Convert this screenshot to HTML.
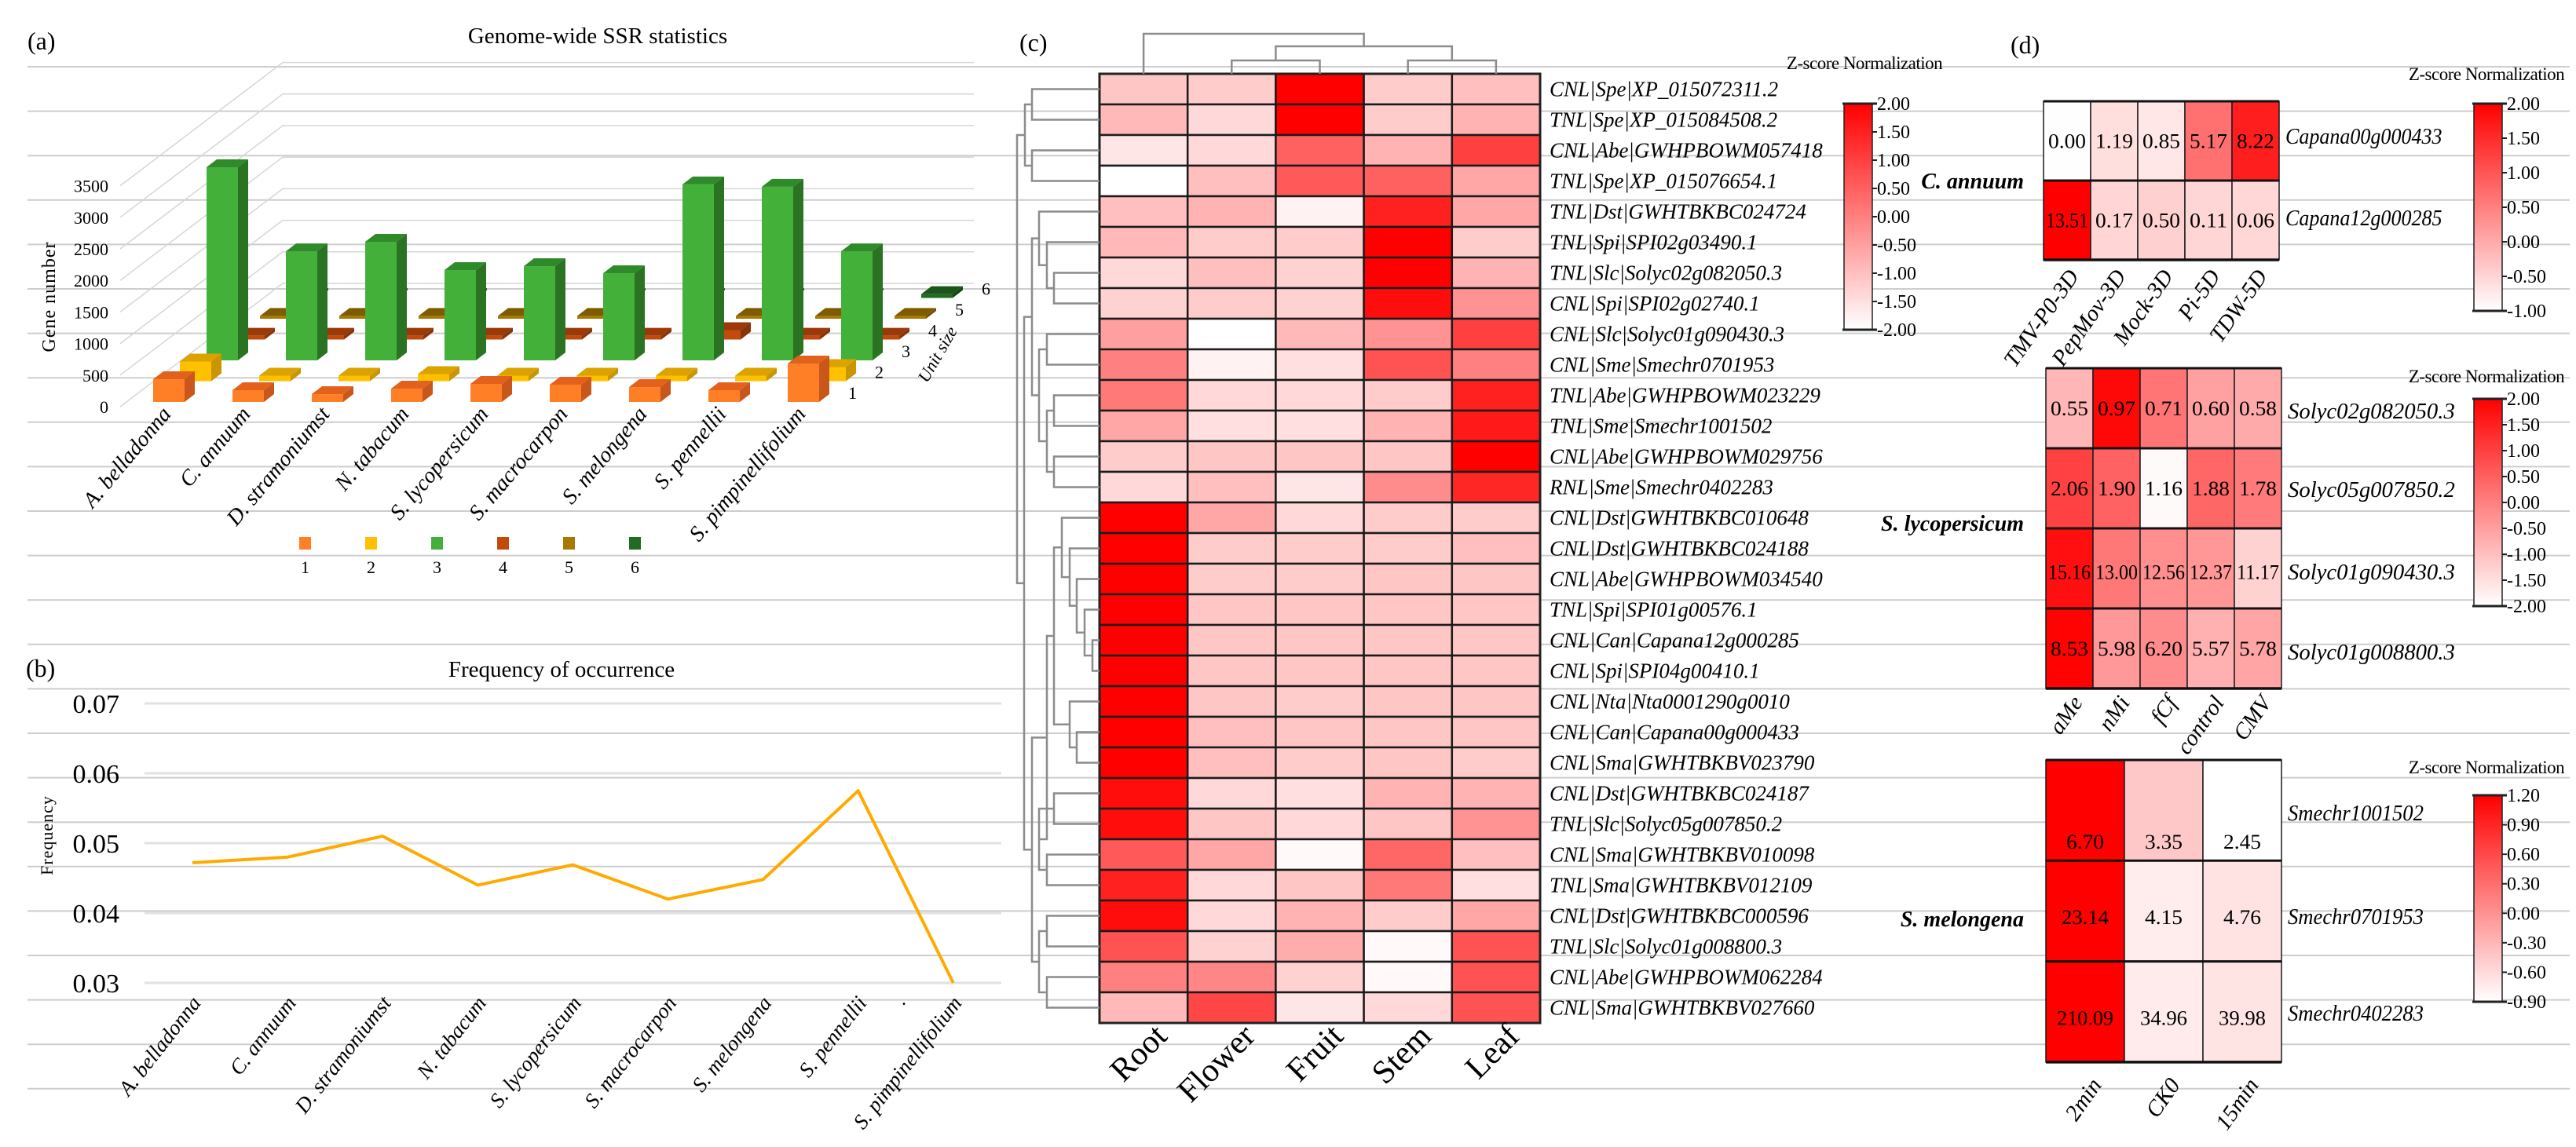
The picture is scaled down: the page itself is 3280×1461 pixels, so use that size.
<!DOCTYPE html>
<html><head><meta charset="utf-8"><title>NLR figure</title>
<style>
html,body{margin:0;padding:0;background:#fff;}
svg{display:block;font-family:"Liberation Serif","DejaVu Serif",serif;}
svg text{font-family:"Liberation Serif","DejaVu Serif",serif;}
</style></head>
<body>
<svg id="fig" xmlns="http://www.w3.org/2000/svg" width="3280" height="1461" viewBox="0 0 3280 1461">
<defs>
<linearGradient id="gradRed" x1="0" y1="1" x2="0" y2="0"><stop offset="0" stop-color="#ffffff"/><stop offset="1" stop-color="#ff0000"/></linearGradient>
</defs>
</svg>
<script>
// ---------- panel (a) data ----------
const speciesA = ['A. belladonna','C. annuum','D. stramoniumst','N. tabacum','S. lycopersicum','S. macrocarpon','S. melongena','S. pennellii','S. pimpinellifolium'];
const unit1 = [360,187,124,211,286,274,236,187,610];
const unit2 = [311,87,87,112,87,87,87,87,224];
const unit3 = [3060,1728,1878,1430,1492,1380,2787,2750,1728];
const unit4 = [60,60,60,60,60,60,150,60,60];
const unit5 = [45,45,45,45,45,0,45,45,45];
const unit6 = [30,30,30,0,30,30,30,30,60];
const ticksA = [0,500,1000,1500,2000,2500,3000,3500];
const unitLabels = ['1','2','3','4','5','6'];
// ---------- panel (b) data ----------
const freqB = [0.0472,0.0480,0.0510,0.0440,0.0469,0.0420,0.0448,0.0575,0.0300];
const ticksB = [0.03,0.04,0.05,0.06,0.07];
// ---------- panel (c) data ----------
const genesC = ['CNL|Spe|XP_015072311.2','TNL|Spe|XP_015084508.2','CNL|Abe|GWHPBOWM057418','TNL|Spe|XP_015076654.1','TNL|Dst|GWHTBKBC024724','TNL|Spi|SPI02g03490.1','TNL|Slc|Solyc02g082050.3','CNL|Spi|SPI02g02740.1','CNL|Slc|Solyc01g090430.3','CNL|Sme|Smechr0701953','TNL|Abe|GWHPBOWM023229','TNL|Sme|Smechr1001502','CNL|Abe|GWHPBOWM029756','RNL|Sme|Smechr0402283','CNL|Dst|GWHTBKBC010648','CNL|Dst|GWHTBKBC024188','CNL|Abe|GWHPBOWM034540','TNL|Spi|SPI01g00576.1','CNL|Can|Capana12g000285','CNL|Spi|SPI04g00410.1','CNL|Nta|Nta0001290g0010','CNL|Can|Capana00g000433','CNL|Sma|GWHTBKBV023790','CNL|Dst|GWHTBKBC024187','TNL|Slc|Solyc05g007850.2','CNL|Sma|GWHTBKBV010098','TNL|Sma|GWHTBKBV012109','CNL|Dst|GWHTBKBC000596','TNL|Slc|Solyc01g008800.3','CNL|Abe|GWHPBOWM062284','CNL|Sma|GWHTBKBV027660'];
const tissuesC = ['Root','Flower','Fruit','Stem','Leaf'];
const zRoot   = [-1.1,-0.9,-1.6,-2,-1.0,-0.9,-1.4,-1.3,-0.5,0,0.1,-0.6,-1.2,-1.4,2,2,2,2,2,2,2,2,2,1.8,1.8,0.6,1.5,1.8,0.7,0,-0.9];
const zFlower = [-1.2,-1.4,-1.4,-1.0,-0.8,-1.2,-1.0,-1.2,-2,-1.8,-1.4,-1.5,-1.1,-1.0,-0.6,-1.2,-1.2,-1.1,-1.1,-1.1,-1.1,-1.0,-1.0,-1.4,-1.1,-0.6,-1.4,-1.4,-1.3,-0.1,0.9];
const zFruit  = [2,2,0.5,0.6,-1.8,-1.2,-1.3,-1.3,-0.9,-1.5,-1.4,-1.5,-1.1,-1.6,-1.4,-1.2,-1.2,-1.1,-1.1,-1.1,-1.2,-1.1,-1.2,-1.5,-1.4,-1.9,-1.1,-0.8,-0.7,-1.3,-1.6];
const zStem   = [-1.2,-1.2,-0.8,0.5,1.5,2,2,1.8,-0.3,0.7,-1.2,-0.8,-1.1,-0.2,-1.2,-1.2,-1.1,-1.1,-1.1,-1.1,-1.1,-1.1,-1.1,-0.8,-1.1,0.4,0.1,-1.2,-1.9,-1.9,-1.4];
const zLeaf   = [-1.0,-0.8,1.0,-0.6,-0.6,-1.2,-0.8,-0.3,1.0,0,1.5,1.6,2,1.4,-1.2,-1.0,-1.1,-1.1,-1.1,-1.1,-1.1,-1.1,-1.2,-0.8,-0.3,-1.0,-1.5,-0.6,0.7,0.7,0.7];
const ticksC = ['2.00','1.50','1.00','0.50','0.00','-0.50','-1.00','-1.50','-2.00'];
// ---------- panel (d) data ----------
const samplesCan = ['TMV-P0-3D','PepMov-3D','Mock-3D','Pi-5D','TDW-5D'];
const genesCan = ['Capana00g000433','Capana12g000285'];
const valsCan0 = [0.00,1.19,0.85,5.17,8.22];
const valsCan1 = [13.51,0.17,0.50,0.11,0.06];
const ticksCan = ['2.00','1.50','1.00','0.50','0.00','-0.50','-1.00'];
const samplesSly = ['aMe','nMi','fCf','control','CMV'];
const genesSly = ['Solyc02g082050.3','Solyc05g007850.2','Solyc01g090430.3','Solyc01g008800.3'];
const valsSly0 = [0.55,0.97,0.71,0.60,0.58];
const valsSly1 = [2.06,1.90,1.16,1.88,1.78];
const valsSly2 = [15.16,13.00,12.56,12.37,11.17];
const valsSly3 = [8.53,5.98,6.20,5.57,5.78];
const ticksSly = ['2.00','1.50','1.00','0.50','0.00','-0.50','-1.00','-1.50','-2.00'];
const samplesSme = ['2min','CK0','15min'];
const genesSme = ['Smechr1001502','Smechr0701953','Smechr0402283'];
const valsSme0 = [6.70,3.35,2.45];
const valsSme1 = [23.14,4.15,4.76];
const valsSme2 = [210.09,34.96,39.98];
const ticksSme = ['1.20','0.90','0.60','0.30','0.00','-0.30','-0.60','-0.90'];

const NS='http://www.w3.org/2000/svg';
const svg=document.getElementById('fig');
function mk(tag,attrs,parent){const el=document.createElementNS(NS,tag);for(const k in attrs)el.setAttribute(k,attrs[k]);(parent||svg).appendChild(el);return el;}
function txt(s,attrs,parent){const el=mk('text',attrs,parent);el.textContent=s;return el;}
function redScale(t){t=Math.max(0,Math.min(1,t));const g=Math.round(255*(1-t));return 'rgb(255,'+g+','+g+')';}
function fmt(v){return v.toFixed(2);}
let e;

// ---------- background gridlines ----------
try{
const gGrid=mk('g',{});


for(let k=0;k<24;k++){
  const y=85+56.6*k;
  const l=mk('line',{x1:35,x2:3272,y1:y,y2:y,stroke:'#cdcdcd','stroke-width':2},gGrid);
  
  
}
}catch(err){console.error(err);}

// =============== PANEL (a) ===============
try{
const gA=mk('g',{});


e=txt('(a)',{x:35,y:63,'font-size':32},gA);


e=txt('Genome-wide SSR statistics',{x:761,y:55,'font-size':29,'text-anchor':'middle'},gA);


e=txt('Gene number',{x:0,y:0,'font-size':24,'text-anchor':'middle',transform:'translate(70,378) rotate(-90)','letter-spacing':'1'},gA);


const pxPerUnit=40.2/500;
function yA0(v){return 518-v*pxPerUnit;}
ticksA.forEach(v=>{
  const y=yA0(v);
  const t=txt(String(v),{x:138,y:y+8,'font-size':22,'text-anchor':'end'},gA);
  
  
  const p=mk('polyline',{points:`153,${y} 360,${y-157} 1240,${y-157}`,fill:'none',stroke:'#d6d6d6','stroke-width':1.5},gA);
  
  
});
const seriesA=[unit1,unit2,unit3,unit4,unit5,unit6];
const colorsA=[
  ['#ff7f27','#c9561a','#e2621d'],
  ['#ffc000','#c99500','#dba200'],
  ['#43b03a','#2a7322','#2f8a29'],
  ['#c24a0c','#8a3306','#9b3a08'],
  ['#a87800','#705000','#7f5b00'],
  ['#226b22','#154815','#1a561a']];
function xA(i,s){return 195+101*i+34*s;}
function baseA(s){return 512-26.5*s;}
function bar3d(x,base,h,c,parent,name){
  const g=mk('g',{},parent);
  
  
  const w=40,dx=13,dy=10,top=base-h;
  const side=mk('polygon',{points:`${x+w},${top} ${x+w+dx},${top-dy} ${x+w+dx},${base-dy} ${x+w},${base}`,fill:c[1]},g);
  
  
  const front=mk('rect',{x:x,y:top,width:w,height:h,fill:c[0]},g);
  
  
  const tp=mk('polygon',{points:`${x},${top} ${x+dx},${top-dy} ${x+w+dx},${top-dy} ${x+w},${top}`,fill:c[2]},g);
  
  
}
for(let s=5;s>=0;s--){
  const vals=seriesA[s];
  for(let i=0;i<vals.length;i++){
    if(vals[i]<=0) continue;
    bar3d(xA(i,s),baseA(s),vals[i]*pxPerUnit,colorsA[s],gA,'bar-unit'+(s+1)+'-'+i);
  }
}
unitLabels.forEach((u,s)=>{
  const t=txt(u,{x:1080+34*s,y:baseA(s)-4,'font-size':22},gA);
  
  
});
e=txt('Unit size',{x:0,y:0,'font-size':22,'font-style':'italic','text-anchor':'middle',transform:'translate(1200,455) rotate(-60)'},gA);


speciesA.forEach((sp,i)=>{
  const x=xA(i,0)+24;
  const t=txt(sp,{x:0,y:0,'font-size':28,'font-style':'italic','text-anchor':'end',transform:`translate(${x},528) rotate(-50)`},gA);
  
  
});
unitLabels.forEach((u,s)=>{
  const x=381+84*s;
  const r=mk('rect',{x:x,y:684,width:15,height:16,fill:colorsA[s][0]},gA);
  
  
  const t=txt(u,{x:x+7.5,y:730,'font-size':22,'text-anchor':'middle'},gA);
  
  
});
}catch(err){console.error(err);}

// =============== PANEL (b) ===============
try{
const gB=mk('g',{});


e=txt('(b)',{x:33,y:862,'font-size':32},gB);


e=txt('Frequency of occurrence',{x:715,y:862,'font-size':29,'text-anchor':'middle'},gB);


e=txt('Frequency',{x:0,y:0,'font-size':22,'text-anchor':'middle','letter-spacing':'1',transform:'translate(67,1064) rotate(-90)'},gB);


function yB(v){return 1252-(v-0.03)*8900;}
function xB(i){return 245+121.1*i;}
ticksB.forEach(v=>{
  const y=yB(v);
  const l=mk('line',{x1:184,x2:1275,y1:y,y2:y,stroke:'#e2e2e2','stroke-width':3},gB);
  
  
  const t=txt(v.toFixed(2),{x:152,y:y+12,'font-size':34,'text-anchor':'end'},gB);
  
  
});
const pts=freqB.map((v,i)=>xB(i)+','+yB(v)).join(' ');
e=mk('polyline',{points:pts,fill:'none',stroke:'#ffaa00','stroke-width':4,'stroke-linejoin':'round'},gB);


speciesA.forEach((sp,i)=>{
  const t=txt(sp,{x:0,y:0,'font-size':27,'font-style':'italic','text-anchor':'end',transform:`translate(${xB(i)+12},1278) rotate(-52)`},gB);
  
  
});
e=txt('.',{x:1148,y:1280,'font-size':24},gB);


}catch(err){console.error(err);}

// =============== shared colour bar ===============
function colorBar(x,y0,y1,labels,parent,name){
  const g=mk('g',{},parent);
  
  
  const r=mk('rect',{x:x,y:y0,width:36,height:y1-y0,fill:'url(#gradRed)',stroke:'#222','stroke-width':1.5},g);
  
  
  const n=labels.length;
  labels.forEach((lb,k)=>{
    const y=y0+(y1-y0)*k/(n-1);
    const tk=mk('line',{x1:x+36,x2:x+42,y1:y,y2:y,stroke:'#222','stroke-width':2},g);
    
    
    const t=txt(lb,{x:x+42,y:y+8,'font-size':24},g);
    
    
  });
  const a=mk('line',{x1:x-2,x2:x+42,y1:y0,y2:y0,stroke:'#222','stroke-width':3},g);
  
  
  const b=mk('line',{x1:x-2,x2:x+42,y1:y1,y2:y1,stroke:'#222','stroke-width':3},g);
  
  
}

// =============== PANEL (c) ===============
try{
const gC=mk('g',{});


e=txt('(c)',{x:1298,y:65,'font-size':32},gC);


const hmX=1400,hmY=94,cw=112.2,rh=39;
const zCols=[zRoot,zFlower,zFruit,zStem,zLeaf];
function colX(j){return hmX+cw*j;}
function rowY(i){return hmY+rh*i;}
zCols.forEach((col,j)=>{
  col.forEach((z,i)=>{
    const r=mk('rect',{x:colX(j),y:rowY(i),width:cw,height:rh,fill:redScale((z+2)/4),stroke:'#1a1a1a','stroke-width':2.5},gC);
    
    
  });
});
e=mk('rect',{x:hmX,y:hmY,width:cw*5,height:rh*genesC.length,fill:'none',stroke:'#222','stroke-width':3},gC);


genesC.forEach((g,i)=>{
  const t=txt(g,{x:1973,y:rowY(i)+rh/2+9,'font-size':27,'font-style':'italic'},gC);
  
  
});
tissuesC.forEach((t0,j)=>{
  const t=txt(t0,{x:0,y:0,'font-size':42,'text-anchor':'end',transform:`translate(${colX(j)+cw/2+32},1322) rotate(-45)`},gC);
  
  
});
const dStroke={fill:'none',stroke:'#8c8c8c','stroke-width':2.5};
function cc(j){return colX(j)+cw/2;}
const colDend=[
  `M${cc(1)},94 V77 H${cc(2)} V94`,
  `M${cc(3)},94 V77 H${cc(4)} V94`,
  `M${(cc(1)+cc(2))/2},77 V59 H${(cc(3)+cc(4))/2} V77`,
  `M${cc(0)},94 V43 H${(cc(1)+cc(2)+cc(3)+cc(4))/4} V59`];
colDend.forEach(d=>{
  const p=mk('path',Object.assign({d:d},dStroke),gC);
  
  
});
const nA=[[0,1,1314],[2,3,1314],1305];
const nB1=[[4,[5,[6,7,1342],1333],1323],[[8,9,1333],[[10,11,1342],[12,13,1342],1333],1323],1314];
const nG1a=[14,[15,[16,[17,[18,19,1391],1381],1371],1362],1352];
const nG1=[nG1a,[20,[21,22,1371],1362],1342];
const nG2=[[23,24,1342],[25,26,1333],1323];
const nG12=[nG1,nG2,1333];
const nG3=[[27,28,1333],[29,30,1333],1323];
const nB2=[nG12,nG3,1314];
const nB=[nB1,nB2,1304];
const tree=[nA,nB,1295];
function drawNode(n){
  if(typeof n==='number') return {y:rowY(n)+rh/2,x:hmX};
  const a=drawNode(n[0]),b=drawNode(n[1]),x=n[2];
  const p=mk('path',Object.assign({d:`M${a.x},${a.y} H${x} V${b.y} H${b.x}`},dStroke),gC);
  
  
  return {y:(a.y+b.y)/2,x:x};
}
drawNode(tree);
colorBar(2348,132,420,ticksC,gC,'colorbar-c');
e=txt('Z-score Normalization',{x:2374,y:88,'font-size':23,'text-anchor':'middle','letter-spacing':'-0.5'},gC);


}catch(err){console.error(err);}

// =============== PANEL (d) ===============
try{
const gD=mk('g',{});


e=txt('(d)',{x:2560,y:68,'font-size':32},gD);


function zrow(vals){const m=vals.reduce((a,b)=>a+b,0)/vals.length;const sd=Math.sqrt(vals.reduce((a,b)=>a+(b-m)*(b-m),0)/vals.length)||1;return vals.map(v=>(v-m)/sd);}
function subHeat(opt){
  const g=mk('g',{},gD);
  
  
  const nC=opt.samples.length, w=opt.w, h=opt.h;
  opt.rows.forEach((vals,i)=>{
    const z=zrow(vals);
    vals.forEach((v,j)=>{
      const x=opt.x+w*j,y=opt.y+h*i;
      const r=mk('rect',{x:x,y:y,width:w,height:h,fill:redScale((z[j]-opt.zmin)/(opt.zmax-opt.zmin)),stroke:'#1a1a1a','stroke-width':1.5},g);
      
      
      const s=fmt(v);
      const t=txt(s,{x:x+w/2,y:y+h*opt.vpos[i],'font-size':26,'text-anchor':'middle',textLength:Math.min(w-6,s.length*12),lengthAdjust:'spacingAndGlyphs'},g);
      
      
    });
    const gl=txt(opt.genes[i],{x:opt.x+w*nC+8,y:opt.geneY[i],'font-size':28,'font-style':'italic',textLength:opt.genes[i].length*13.3,lengthAdjust:'spacingAndGlyphs'},g);
    
    
    const hl=mk('line',{x1:opt.x,x2:opt.x+w*nC,y1:opt.y+h*i,y2:opt.y+h*i,stroke:'#111','stroke-width':3},g);
    
    
  });
  const yb=opt.y+h*opt.rows.length;
  const bl=mk('line',{x1:opt.x,x2:opt.x+w*nC,y1:yb,y2:yb,stroke:'#111','stroke-width':3.5},g);
  
  
  opt.samples.forEach((s,j)=>{
    const t=txt(s,{x:0,y:0,'font-size':29,'font-style':'italic','text-anchor':'end',transform:`translate(${opt.x+w*j+w/2+opt.lx},${opt.ly}) rotate(-55)`},g);
    
    
  });
  const sp=txt(opt.species,{x:2577,y:opt.spY,'font-size':28,'font-weight':'bold','font-style':'italic','text-anchor':'end'},g);
  
  
  colorBar(3150,opt.cb0,opt.cb1,opt.ticks,g,'colorbar-d');
  const zt=txt('Z-score Normalization',{x:3166,y:opt.cbT,'font-size':23,'text-anchor':'middle','letter-spacing':'-0.5'},g);
  
  
}
subHeat({name:'heatmap-c-annuum',x:2602,y:129,w:60,h:101,rows:[valsCan0,valsCan1],samples:samplesCan,genes:genesCan,geneY:[183,287],vpos:[0.59,0.59],zmin:-1,zmax:2,lx:16,ly:352,species:'C. annuum',spY:240,cb0:132,cb1:396,ticks:ticksCan,cbT:102});
subHeat({name:'heatmap-s-lycopersicum',x:2605,y:469,w:60,h:102,rows:[valsSly0,valsSly1,valsSly2,valsSly3],samples:samplesSly,genes:genesSly,geneY:[533,633,738,840],vpos:[0.59,0.59,0.63,0.59],zmin:-2,zmax:2,lx:18,ly:895,species:'S. lycopersicum',spY:676,cb0:508,cb1:772,ticks:ticksSly,cbT:487});
subHeat({name:'heatmap-s-melongena',x:2605,y:968,w:100,h:128.3,rows:[valsSme0,valsSme1,valsSme2],samples:samplesSme,genes:genesSme,geneY:[1045,1177,1300],vpos:[0.88,0.63,0.63],zmin:-0.9,zmax:1.2,lx:22,ly:1382,species:'S. melongena',spY:1180,cb0:1013,cb1:1276,ticks:ticksSme,cbT:985});
}catch(err){console.error(err);}
</script>
</body></html>
